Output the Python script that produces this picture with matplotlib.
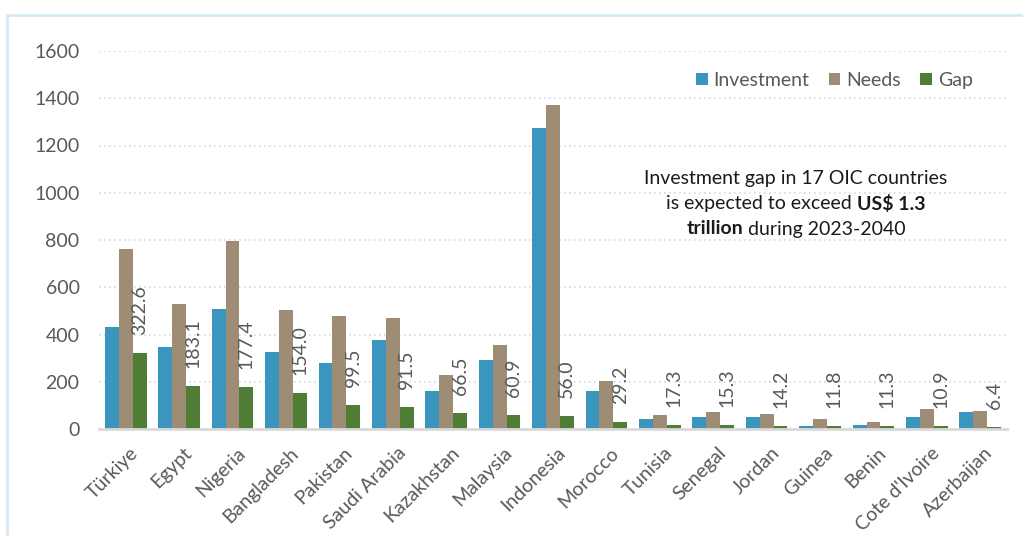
import matplotlib.pyplot as plt
import matplotlib.transforms as mtransforms
import numpy as np
from matplotlib.patches import Rectangle

countries = ["Türkiye", "Egypt", "Nigeria", "Bangladesh", "Pakistan", "Saudi Arabia",
             "Kazakhstan", "Malaysia", "Indonesia", "Morocco", "Tunisia", "Senegal",
             "Jordan", "Guinea", "Benin", "Cote d'Ivoire", "Azerbaijan"]
investment = [433, 347, 508, 326, 278, 378, 161, 293, 1272, 161, 42, 49, 49, 13, 16, 52, 71]
needs = [762, 529, 796, 505, 478, 468, 229, 355, 1371, 203, 59, 72, 63, 41, 31, 86, 78]
gap = [322.6, 183.1, 177.4, 154.0, 99.5, 91.5, 66.5, 60.9, 56.0, 29.2, 17.3, 15.3,
       14.2, 11.8, 11.3, 10.9, 6.4]

c_inv = '#3A96BE'
c_need = '#9E8C75'
c_gap = '#507D35'
grey = '#595959'

plt.rcParams['font.family'] = ['Lato', 'DejaVu Sans']

fig = plt.figure(figsize=(10.23, 5.36), dpi=100)
ax = fig.add_axes([99 / 1023, 1 - 429 / 536, 908 / 1023, 378 / 536])

# light blue frame round the chart
fig.patches.append(Rectangle((7 / 1023, -0.05), 1.1, 1 - 15 / 536 + 0.05,
                             transform=fig.transFigure, fill=False,
                             edgecolor='#D6EBF3', lw=2))

x = np.arange(len(countries))
w = 0.26
ax.bar(x - w, investment, w, color=c_inv, label='Investment', zorder=3)
ax.bar(x, needs, w, color=c_need, label='Needs', zorder=3)
ax.bar(x + w, gap, w, color=c_gap, label='Gap', zorder=3)

for xi, g in zip(x, gap):
    ax.annotate(f"{g:.1f}", (xi + w, g), xytext=(0, 18), textcoords='offset pixels',
                rotation=90, ha='center', va='bottom', fontsize=14, color=grey)

ax.set_xlim(-0.5, len(countries) - 0.5)
ax.set_ylim(0, 1600)
ax.set_yticks(range(0, 1601, 200))
ax.yaxis.grid(True, color='#C5E0EC', linestyle=(0, (1, 2)), lw=1.2, zorder=0)
ax.set_xticks(x)
ax.set_xticklabels(countries, rotation=45, ha='right', rotation_mode='anchor')
ax.tick_params(axis='both', length=0, labelsize=14, labelcolor=grey)
ax.tick_params(axis='y', pad=14)
ax.tick_params(axis='x', pad=11)
shift = mtransforms.ScaledTranslation(4 / 100, 0, fig.dpi_scale_trans)
for lab in ax.get_xticklabels():
    lab.set_transform(lab.get_transform() + shift)
for s in ['top', 'right', 'left']:
    ax.spines[s].set_visible(False)
ax.spines['bottom'].set_color('#D9D9D9')
ax.spines['bottom'].set_linewidth(2)
ax.spines['bottom'].set_zorder(4)

leg = ax.legend(loc='upper left', bbox_to_anchor=(696 / 1023, 1 - 72 / 536),
                bbox_transform=fig.transFigure, ncol=3, frameon=False, fontsize=14,
                handlelength=0.6, handleheight=0.6, handletextpad=0.3,
                columnspacing=1.0, borderaxespad=0, borderpad=0)
for t in leg.get_texts():
    t.set_color(grey)

# annotation with bold parts
r = fig.canvas.get_renderer()
cx = 796 / 1023
tc = '#1A1A1A'


def mixed_line(parts, y):
    texts = [fig.text(0, y, s, fontsize=14, color=tc, fontweight=wt, va='center')
             for s, wt in parts]
    widths = [t.get_window_extent(r).width for t in texts]
    total = sum(widths)
    xp = cx * 1023 - total / 2
    for t, wd in zip(texts, widths):
        t.set_x(xp / 1023)
        xp += wd


mixed_line([("Investment gap in 17 OIC countries", 'normal')], 1 - 179 / 536)
mixed_line([("is expected to exceed ", 'normal'), ("US$ 1.3", 'bold')], 1 - 204 / 536)
mixed_line([("trillion", 'bold'), (" during 2023-2040", 'normal')], 1 - 229 / 536)

fig.savefig('out.png', dpi=100)
